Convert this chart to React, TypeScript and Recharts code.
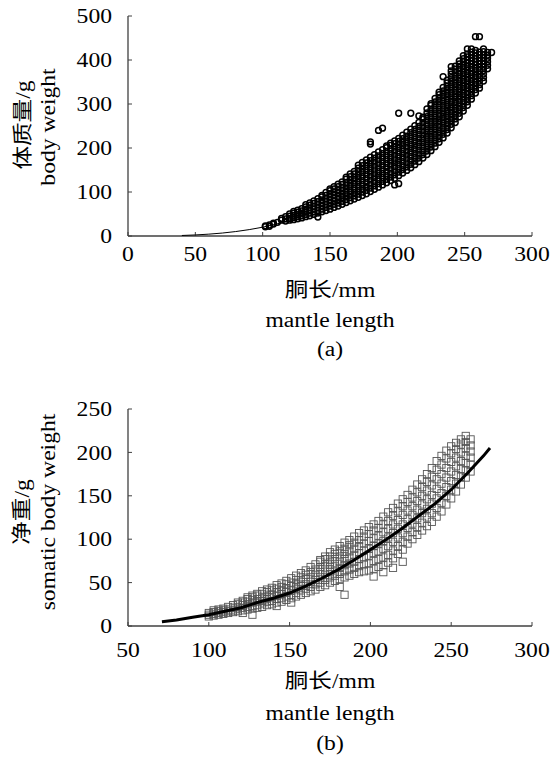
import { ScatterChart, Scatter, XAxis, YAxis } from "recharts";

const weightCols: [number, number[]][] = [
  [102, [21, 23]],
  [105, [22, 25]],
  [108, [27, 29]],
  [111, [31]],
  [114, [36, 40]],
  [117, [34, 39, 44]],
  [120, [36, 40, 45, 50]],
  [123, [37, 42, 47, 52, 56]],
  [126, [39, 44, 49, 54, 59]],
  [129, [41, 46, 52, 57, 62]],
  [132, [44, 49, 55, 61, 66, 71]],
  [135, [46, 52, 58, 64, 70, 75]],
  [138, [49, 55, 61, 67, 74, 80]],
  [141, [43, 52, 58, 64, 71, 78, 85]],
  [144, [55, 61, 68, 75, 82, 89, 92]],
  [147, [58, 65, 71, 78, 85, 92, 99]],
  [150, [61, 68, 75, 82, 89, 96, 103, 107]],
  [153, [65, 72, 79, 86, 93, 100, 107, 112]],
  [156, [68, 75, 83, 90, 98, 105, 112, 118]],
  [159, [72, 79, 87, 95, 103, 110, 117, 123]],
  [162, [76, 83, 91, 99, 107, 115, 122, 129, 134]],
  [165, [80, 87, 95, 103, 112, 120, 128, 135, 141]],
  [168, [84, 91, 99, 108, 117, 125, 133, 141, 147]],
  [171, [88, 95, 104, 113, 122, 130, 138, 146, 154, 161]],
  [174, [92, 100, 108, 117, 126, 135, 144, 152, 160, 167]],
  [177, [96, 104, 113, 122, 131, 140, 149, 158, 166, 173]],
  [180, [101, 109, 118, 127, 136, 145, 154, 163, 171, 179, 209, 214]],
  [183, [106, 114, 123, 132, 141, 150, 159, 168, 177, 185]],
  [186, [111, 119, 128, 137, 146, 155, 164, 173, 182, 191, 240]],
  [189, [116, 124, 133, 142, 151, 160, 169, 178, 187, 196, 245]],
  [192, [121, 129, 138, 147, 156, 165, 174, 183, 192, 201, 205]],
  [195, [126, 134, 143, 152, 161, 170, 179, 188, 197, 206, 211]],
  [198, [116, 131, 139, 148, 157, 166, 175, 184, 193, 202, 210, 216]],
  [201, [119, 137, 145, 154, 163, 172, 181, 190, 199, 207, 215, 222, 279]],
  [204, [143, 151, 160, 169, 178, 187, 196, 205, 213, 221, 229]],
  [207, [149, 157, 166, 175, 184, 193, 202, 211, 219, 227, 236]],
  [210, [155, 163, 172, 181, 190, 199, 208, 217, 226, 235, 243, 279]],
  [213, [162, 170, 179, 188, 197, 206, 215, 224, 233, 242, 251]],
  [216, [169, 177, 186, 195, 204, 213, 222, 231, 240, 249, 258, 273]],
  [219, [177, 185, 194, 203, 212, 221, 230, 239, 248, 257, 266, 270]],
  [222, [185, 193, 202, 210, 219, 227, 236, 244, 253, 262, 271, 280, 289]],
  [225, [194, 202, 210, 219, 227, 236, 244, 253, 261, 270, 279, 288, 297, 301]],
  [228, [203, 211, 219, 228, 236, 244, 253, 261, 270, 278, 287, 296, 305, 313]],
  [231, [213, 221, 229, 237, 246, 254, 262, 271, 279, 288, 296, 305, 313, 321, 327]],
  [234, [223, 231, 239, 247, 256, 264, 272, 280, 289, 297, 306, 314, 322, 330, 338, 362]],
  [237, [234, 242, 250, 258, 266, 274, 283, 291, 299, 308, 316, 324, 332, 340, 348, 354]],
  [240, [246, 254, 262, 270, 278, 286, 294, 303, 311, 319, 327, 336, 344, 352, 360, 368, 375, 385]],
  [243, [258, 266, 274, 282, 290, 298, 306, 315, 323, 331, 339, 347, 355, 363, 371, 379, 386]],
  [246, [271, 279, 287, 295, 303, 311, 319, 327, 335, 343, 351, 359, 367, 375, 383, 391, 398]],
  [249, [284, 292, 300, 308, 316, 324, 332, 340, 348, 356, 364, 372, 380, 388, 396, 403, 410]],
  [252, [297, 305, 313, 321, 329, 337, 345, 353, 361, 369, 377, 385, 393, 400, 407, 414, 425]],
  [255, [311, 319, 327, 335, 343, 351, 359, 367, 375, 383, 391, 398, 405, 412, 418, 425]],
  [258, [325, 333, 341, 349, 357, 365, 373, 381, 389, 396, 403, 410, 416, 422, 453]],
  [261, [336, 344, 352, 360, 368, 376, 384, 391, 398, 405, 412, 418, 453]],
  [264, [352, 360, 368, 376, 384, 391, 398, 405, 412, 419, 425]],
  [267, [380, 388, 396, 404, 411, 417]],
  [270, [417]],
];

// fitted curve for (a)
const weightFitL = [40, 50, 60, 70, 80, 90, 100, 110, 120, 130, 140, 150, 160, 170, 180, 190, 200, 210, 220, 230, 240, 250, 260, 268];
const weightFitW = [1.2, 2.4, 4.2, 6.7, 10.1, 14.5, 20, 27, 35, 45, 57, 70, 86, 103, 123, 146, 170, 198, 228, 261, 297, 337, 380, 418];

// (b) somatic body weight vs mantle length
const somaticCols: [number, number[]][] = [
  [100, [11, 13, 15]],
  [103, [12, 14, 16, 18]],
  [106, [13, 15, 17, 19]],
  [109, [14, 16, 18, 20]],
  [112, [15, 17, 19, 22]],
  [115, [16, 18, 21, 24]],
  [118, [17, 20, 22, 25, 27]],
  [121, [15, 18, 21, 24, 27, 29]],
  [124, [19, 22, 25, 28, 31, 33]],
  [127, [13, 20, 23, 27, 30, 33, 35]],
  [130, [21, 24, 28, 31, 35, 37]],
  [133, [22, 26, 29, 33, 37, 40]],
  [136, [24, 28, 31, 35, 39, 42]],
  [139, [25, 29, 33, 37, 41, 44]],
  [142, [23, 27, 31, 35, 39, 43, 47]],
  [145, [28, 32, 37, 41, 45, 49]],
  [148, [30, 34, 39, 43, 48, 52]],
  [151, [27, 32, 36, 41, 46, 50, 55]],
  [154, [34, 38, 43, 48, 53, 58]],
  [157, [36, 41, 46, 51, 56, 61]],
  [160, [38, 43, 48, 54, 59, 64]],
  [163, [40, 45, 51, 56, 62, 68]],
  [166, [42, 48, 53, 59, 65, 71]],
  [169, [45, 50, 56, 62, 68, 74, 76]],
  [172, [47, 53, 59, 65, 71, 77, 80]],
  [175, [50, 56, 62, 68, 74, 80, 85]],
  [178, [52, 58, 64, 71, 77, 83, 88]],
  [181, [45, 54, 60, 67, 74, 80, 86, 92]],
  [184, [36, 56, 63, 70, 77, 83, 89, 96]],
  [187, [58, 65, 72, 79, 86, 93, 99]],
  [190, [60, 67, 74, 82, 89, 96, 103]],
  [193, [62, 69, 77, 84, 92, 99, 107]],
  [196, [63, 71, 79, 87, 95, 103, 110]],
  [199, [64, 72, 81, 89, 98, 106, 114]],
  [202, [57, 66, 75, 84, 92, 101, 110, 117]],
  [205, [68, 77, 86, 95, 104, 113, 121]],
  [208, [62, 70, 79, 89, 98, 108, 117, 126]],
  [211, [73, 82, 92, 102, 112, 121, 131]],
  [214, [67, 78, 87, 97, 107, 117, 127, 136]],
  [217, [83, 92, 102, 112, 122, 132, 141]],
  [220, [74, 88, 97, 107, 117, 128, 138, 146]],
  [223, [95, 103, 113, 123, 133, 143, 151]],
  [226, [100, 108, 118, 128, 138, 148, 157]],
  [229, [105, 114, 124, 134, 144, 154, 163]],
  [232, [110, 119, 130, 140, 150, 160, 169]],
  [235, [115, 125, 135, 146, 156, 166, 175]],
  [238, [120, 130, 141, 151, 162, 172, 182]],
  [241, [126, 136, 147, 158, 169, 180, 190]],
  [244, [132, 142, 153, 164, 175, 186, 196]],
  [247, [140, 150, 160, 171, 182, 193, 202]],
  [250, [147, 157, 167, 178, 189, 199, 207]],
  [253, [155, 164, 174, 184, 194, 204, 211]],
  [256, [163, 172, 181, 190, 200, 209, 215]],
  [259, [171, 179, 188, 196, 205, 212, 219]],
  [262, [178, 186, 194, 201, 208, 215]],
];

const somaticFitL = [71, 80, 90, 100, 110, 120, 130, 140, 150, 160, 170, 180, 190, 200, 210, 220, 230, 240, 250, 260, 270, 274];
const somaticFitW = [5, 7, 10, 13, 17, 21, 27, 32, 38, 46, 55, 65, 76, 88, 100, 113, 127, 141, 157, 176, 196, 205];

const ticksA_X = [0, 50, 100, 150, 200, 250, 300];
const ticksA_Y = [0, 50, 100, 150, 200, 250, 300, 350, 400, 450, 500];
const ticksB_X = [50, 100, 150, 200, 250, 300];
const ticksB_Y = [0, 50, 100, 150, 200, 250];

const flatten = (cols: [number, number[]][]) =>
  cols.flatMap(([x, ws]) => ws.map((y) => ({ x, y })));
const pairUp = (xs: number[], ys: number[]) => xs.map((x, i) => ({ x, y: ys[i] }));

const SERIF = '"Liberation Serif", "Noto Sans CJK SC", serif';
const SX = 1.18; // glyphs in the figure are wider than Liberation Serif
const AXIS = "#404040";

function XTick(props: any) {
  const { x, y, payload } = props;
  return (
    <text
      transform={`translate(${x},${y}) scale(${SX},1)`}
      textAnchor="middle"
      dy="0.71em"
      fontSize={20}
      fontFamily={SERIF}
      fill="#000"
    >
      {payload.value}
    </text>
  );
}

function YTick(props: any) {
  const { x, y, payload, step } = props;
  if (payload.value % step !== 0) return <g />;
  return (
    <text
      transform={`translate(${x},${y}) scale(${SX},1)`}
      textAnchor="end"
      dy="0.355em"
      fontSize={20}
      fontFamily={SERIF}
      fill="#000"
    >
      {payload.value}
    </text>
  );
}

const Circle = (p: any) => (
  <circle cx={p.cx} cy={p.cy} r={2.9} fill="none" stroke="#000" strokeWidth={1.5} />
);
const Square = (p: any) => (
  <rect x={p.cx - 3.6} y={p.cy - 3.6} width={7.2} height={7.2} fill="none" stroke="#555" strokeWidth={0.9} />
);
const NoDot = () => <g />;

function Title({ x, y, text, rotate }: { x: number; y: number; text: string; rotate?: boolean }) {
  return (
    <div
      style={{
        position: "absolute",
        left: x,
        top: y,
        transform: `translate(-50%,-50%)${rotate ? " rotate(-90deg)" : ""} scale(${SX},1)`,
        whiteSpace: "nowrap",
        fontSize: 20,
        lineHeight: 1,
        fontFamily: SERIF,
        color: "#000",
      }}
    >
      {text}
    </div>
  );
}

export default function App() {
  const weightPts = flatten(weightCols);
  const weightFit = pairUp(weightFitL, weightFitW);
  const somaticPts = flatten(somaticCols);
  const somaticFit = pairUp(somaticFitL, somaticFitW);

  return (
    <div style={{ position: "absolute", left: 0, top: 0, width: 550, height: 760, background: "#fff" }}>
      {/* (a) */}
      <div style={{ position: "absolute", left: 0, top: 0 }}>
        <ScatterChart width={550} height={380} margin={{ top: 16, right: 18, left: 68, bottom: 114 }}>
          <XAxis
            type="number"
            dataKey="x"
            domain={[0, 300]}
            ticks={ticksA_X}
            height={30}
            tickSize={-4}
            tickMargin={15}
            axisLine={{ stroke: AXIS, strokeWidth: 1.3 }}
            tickLine={{ stroke: AXIS }}
            tick={<XTick />}
          />
          <YAxis
            type="number"
            dataKey="y"
            domain={[0, 500]}
            ticks={ticksA_Y}
            width={60}
            tickSize={-4}
            tickMargin={20}
            axisLine={{ stroke: AXIS, strokeWidth: 1.3 }}
            tickLine={{ stroke: AXIS }}
            tick={(p: any) => <YTick {...p} step={100} />}
          />
          <Scatter data={weightPts} shape={Circle} isAnimationActive={false} />
          <Scatter
            data={weightFit}
            shape={NoDot}
            line={{ stroke: "#000", strokeWidth: 1 }}
            isAnimationActive={false}
          />
        </ScatterChart>
      </div>

      {/* (b) */}
      <div style={{ position: "absolute", left: 0, top: 380 }}>
        <ScatterChart width={550} height={380} margin={{ top: 29, right: 18, left: 68, bottom: 104 }}>
          <XAxis
            type="number"
            dataKey="x"
            domain={[50, 300]}
            ticks={ticksB_X}
            height={30}
            tickSize={-4}
            tickMargin={21}
            axisLine={{ stroke: AXIS, strokeWidth: 1.3 }}
            tickLine={{ stroke: AXIS }}
            tick={<XTick />}
          />
          <YAxis
            type="number"
            dataKey="y"
            domain={[0, 250]}
            ticks={ticksB_Y}
            width={60}
            tickSize={-4}
            tickMargin={20}
            axisLine={{ stroke: AXIS, strokeWidth: 1.3 }}
            tickLine={{ stroke: AXIS }}
            tick={(p: any) => <YTick {...p} step={50} />}
          />
          <Scatter data={somaticPts} shape={Square} isAnimationActive={false} />
          <Scatter
            data={somaticFit}
            shape={NoDot}
            line={{ stroke: "#000", strokeWidth: 3 }}
            isAnimationActive={false}
          />
        </ScatterChart>
      </div>

      <Title x={23} y={125} text="体质量/g" rotate />
      <Title x={48} y={127} text="body weight" rotate />
      <Title x={330} y={290} text="胴长/mm" />
      <Title x={330} y={320} text="mantle length" />
      <Title x={330} y={349} text="(a)" />

      <Title x={22} y={512} text="净重/g" rotate />
      <Title x={48} y={512} text="somatic body weight" rotate />
      <Title x={330} y={681} text="胴长/mm" />
      <Title x={330} y={713} text="mantle length" />
      <Title x={330} y={743} text="(b)" />
    </div>
  );
}
